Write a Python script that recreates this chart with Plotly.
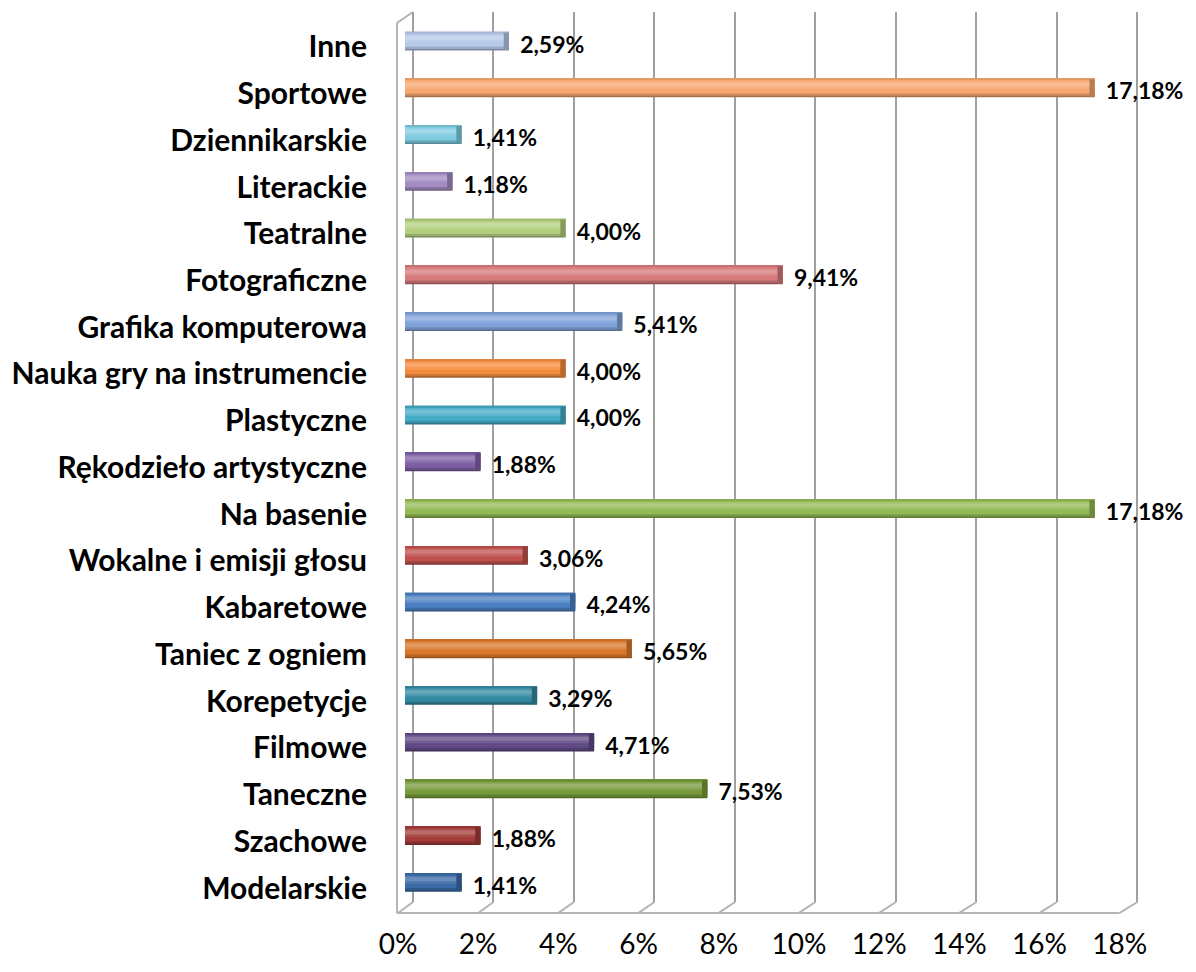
import plotly.graph_objects as go

# ---------------- data ----------------
categories = ["Modelarskie", "Szachowe", "Taneczne", "Filmowe", "Korepetycje",
              "Taniec z ogniem", "Kabaretowe", "Wokalne i emisji głosu", "Na basenie",
              "Rękodzieło artystyczne", "Plastyczne", "Nauka gry na instrumencie",
              "Grafika komputerowa", "Fotograficzne", "Teatralne", "Literackie",
              "Dziennikarskie", "Sportowe", "Inne"]
values = [1.41, 1.88, 7.53, 4.71, 3.29, 5.65, 4.24, 3.06, 17.18, 1.88,
          4.00, 4.00, 5.41, 9.41, 4.00, 1.18, 1.41, 17.18, 2.59]
colors = ["#3A6AA5", "#A33B38", "#779A3C", "#604A85", "#338BA3", "#D9782C",
          "#4A7FC1", "#C0504D", "#93B953", "#7D5FA5", "#45ACC7", "#F48C3E",
          "#7FA2D8", "#D77A7B", "#B3D07F", "#A28CC2", "#7FCBE0", "#F7A770", "#B7C9E9"]
tick_vals = [0, 2, 4, 6, 8, 10, 12, 14, 16, 18]
tick_text = ["0%", "2%", "4%", "6%", "8%", "10%", "12%", "14%", "16%", "18%"]

# ---------------- geometry (pixels) ----------------
W, H = 1196, 972
PL, PR, PT, PB = 396, 1140, 12, 907       # plot area
FRONT0, FRONT_PX = 397, 40.15             # front edge scale (tick labels)
BACK0, BACK_PX = 412, 40.3                # back wall scale (gridlines)
BAR0, BAR_PX = 404, 40.2                  # bar scale
FLOOR_Y = 918


def rng(zero, per):
    return [(PL - zero) / per, (PR - zero) / per]


def shade(hexc, f):
    r, g, b = int(hexc[1:3], 16), int(hexc[3:5], 16), int(hexc[5:7], 16)
    if f >= 0:
        r, g, b = [int(c + (255 - c) * f) for c in (r, g, b)]
    else:
        r, g, b = [int(c * (1 + f)) for c in (r, g, b)]
    return "#%02x%02x%02x" % (r, g, b)


fig = go.Figure()

# cylinder-like bars built from stacked strips (overlay)
shift = 0.12           # bar centre above category centre (category units)
thick = 0.40
strips = [(0.00, 1.00, -0.32), (0.08, 0.96, -0.16), (0.20, 0.92, 0.0),
          (0.45, 0.86, 0.12), (0.58, 0.78, 0.25), (0.93, 1.00, -0.08)]
for lo, hi, f in strips:
    fig.add_trace(go.Bar(
        y=categories, x=values, orientation="h",
        width=thick * (hi - lo), offset=shift - thick / 2 + thick * lo,
        marker=dict(color=[shade(c, f) for c in colors], line=dict(width=0)),
        hoverinfo="skip", showlegend=False))

# darker end cap
cap = 0.13
fig.add_trace(go.Bar(
    y=categories, x=[cap] * len(values), base=[v - cap for v in values],
    orientation="h", width=thick * 0.92, offset=shift - thick / 2 + thick * 0.04,
    marker=dict(color=[shade(c, -0.25) for c in colors], line=dict(width=0)),
    hoverinfo="skip", showlegend=False))

# data labels
fig.add_trace(go.Scatter(
    y=categories, x=values, mode="text",
    texttemplate="\u00a0\u00a0%{x:.2f}%", textposition="middle right",
    textfont=dict(family="Lato", size=23, color="black", weight="bold"),
    cliponaxis=False, hoverinfo="skip", showlegend=False))

# helper traces for gridline and tick-label axes
fig.add_trace(go.Scatter(x=[], y=[], xaxis="x2", showlegend=False))
fig.add_trace(go.Scatter(x=[], y=[], xaxis="x3", showlegend=False))

# frame (walls / floor) in paper coordinates
def px(xp):
    return (xp - PL) / (PR - PL)


def py(yp):
    return (PB - yp) / (PB - PT)


frame = dict(type="line", xref="paper", yref="paper", layer="below",
             line=dict(color="#B4B4B4", width=2))
shapes = [
    dict(frame, x0=px(396), y0=py(FLOOR_Y), x1=px(396), y1=py(23)),
    dict(frame, x0=px(396), y0=py(23), x1=px(BACK0), y1=py(PT)),
    dict(frame, x0=px(396), y0=py(FLOOR_Y), x1=px(FRONT0 + 18 * FRONT_PX), y1=py(FLOOR_Y)),
]
for t in tick_vals:
    shapes.append(dict(frame, x0=px(FRONT0 + t * FRONT_PX), y0=py(FLOOR_Y),
                       x1=px(BACK0 + t * BACK_PX), y1=py(PB)))

fig.update_layout(
    width=W, height=H,
    margin=dict(l=PL, r=W - PR, t=PT, b=H - PB, pad=0),
    paper_bgcolor="white", plot_bgcolor="white",
    barmode="overlay", separators=", ",
    font=dict(family="Lato", color="black"),
    shapes=shapes,
    xaxis=dict(range=rng(BAR0, BAR_PX), showgrid=False, zeroline=False,
               showticklabels=False, showline=False, fixedrange=True),
    xaxis2=dict(range=rng(BACK0, BACK_PX), overlaying="x", side="bottom",
                tickvals=tick_vals, showgrid=True, gridcolor="#A0A0A0", gridwidth=2,
                showticklabels=False, zeroline=False, showline=False),
    xaxis3=dict(range=rng(FRONT0, FRONT_PX), overlaying="x", side="bottom",
                tickmode="array", tickvals=tick_vals, ticktext=tick_text,
                showgrid=False, zeroline=False,
                showline=False, ticks="", ticklabelstandoff=23,
                tickfont=dict(family="Lato", size=28, color="black")),
    yaxis=dict(range=[-0.298, 18.745], showgrid=False, zeroline=False, showline=False,
               ticks="", ticklabelstandoff=29,
               tickfont=dict(family="Lato", size=30, color="black", weight="bold")),
)

fig.write_html("out.html",
               config={"displayModeBar": False},
               post_script="document.documentElement.style.margin='0';"
                           "document.body.style.margin='0';")
